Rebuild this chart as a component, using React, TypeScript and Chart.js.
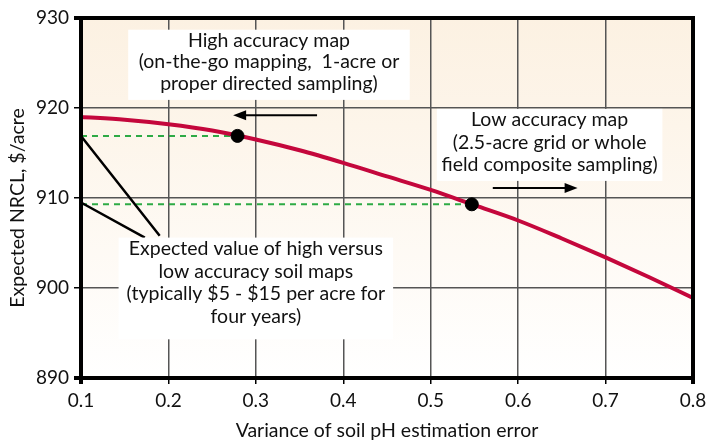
import React, { useEffect, useRef } from "react";
import { Chart, registerables } from "chart.js";

Chart.register(...registerables);

const xValues = [0.1, 0.15, 0.2, 0.25, 0.3, 0.35, 0.4, 0.45, 0.5, 0.55, 0.6, 0.65, 0.7, 0.75, 0.8];
const nrclValues = [919.0, 918.7, 918.2, 917.5, 916.5, 915.3, 913.9, 912.4, 910.9, 909.2, 907.5, 905.5, 903.4, 901.2, 898.9];
const markerX = [0.279, 0.547];
const markerY = [916.9, 909.3];
const xTicks = [0.1, 0.2, 0.3, 0.4, 0.5, 0.6, 0.7, 0.8];
const yTicks = [890, 900, 910, 920, 930];

const yTitle = "Expected NRCL, $/acre";
const xTitle = "Variance of soil pH estimation error";
const highText = ["High accuracy map", "(on-the-go mapping,  1-acre or", "proper directed sampling)"];
const lowText = ["Low accuracy map", "(2.5-acre grid or whole", "field composite sampling)"];
const valueText = ["Expected value of high versus", "low accuracy soil maps", "(typically $5 - $15 per acre for", "four years)"];

const FONT = "Lato, 'DejaVu Sans', sans-serif";

const annotPlugin = {
  id: "annot",
  beforeDatasetsDraw(chart: any) {
    const { ctx } = chart;
    const xs = chart.scales.x;
    const ys = chart.scales.y;
    const X = (v: number) => xs.getPixelForValue(v);
    const Y = (v: number) => ys.getPixelForValue(v);
    ctx.save();
    ctx.strokeStyle = "#2eaa45";
    ctx.lineWidth = 2;
    ctx.setLineDash([6, 5]);
    for (let i = 0; i < markerX.length; i++) {
      ctx.beginPath();
      ctx.moveTo(X(0.1), Y(markerY[i]));
      ctx.lineTo(X(markerX[i]), Y(markerY[i]));
      ctx.stroke();
    }
    ctx.setLineDash([]);
    ctx.restore();
  },
  beforeDraw(chart: any) {
    const { ctx, chartArea: a } = chart;
    ctx.save();
    const g = ctx.createLinearGradient(0, a.top, 0, a.bottom);
    g.addColorStop(0, "#fcf1e2");
    g.addColorStop(0.3, "#fdf5ea");
    g.addColorStop(1, "#ffffff");
    ctx.fillStyle = g;
    ctx.fillRect(a.left, a.top, a.right - a.left, a.bottom - a.top);
    ctx.restore();
  },
  afterDraw(chart: any) {
    const { ctx, chartArea: a } = chart;
    const xs = chart.scales.x;
    const ys = chart.scales.y;
    const X = (v: number) => xs.getPixelForValue(v);
    const Y = (v: number) => ys.getPixelForValue(v);
    ctx.save();

    // frame
    ctx.strokeStyle = "#000";
    ctx.lineWidth = 4;
    ctx.beginPath();
    ctx.moveTo(a.left - 7, a.top);
    ctx.lineTo(a.right, a.top);
    ctx.lineTo(a.right, a.bottom + 6);
    ctx.stroke();
    ctx.beginPath();
    ctx.moveTo(a.left, a.top);
    ctx.lineTo(a.left, a.bottom + 6);
    ctx.moveTo(a.left - 7, a.bottom);
    ctx.lineTo(a.right, a.bottom);
    ctx.stroke();

    // y-axis title (drawn manually, slightly below axis centre as in the original)
    ctx.save();
    ctx.translate(18, (a.top + a.bottom) / 2 + 10);
    ctx.rotate(-Math.PI / 2);
    ctx.fillStyle = "#111";
    ctx.font = `19.5px ${FONT}`;
    ctx.textAlign = "center";
    ctx.textBaseline = "middle";
    ctx.fillText(yTitle, 0, 0);
    ctx.restore();

    // pointer lines
    ctx.lineWidth = 2.5;
    ctx.beginPath();
    ctx.moveTo(X(0.1), Y(916.9));
    ctx.lineTo(X(0.19), Y(905.8));
    ctx.moveTo(X(0.1), Y(909.5));
    ctx.lineTo(X(0.173), Y(905.6));
    ctx.stroke();

    // arrows
    const arrow = (x1: number, x2: number, yv: number) => {
      const px1 = X(x1), px2 = X(x2), py = Y(yv);
      const dir = Math.sign(px2 - px1);
      ctx.lineWidth = 2;
      ctx.beginPath();
      ctx.moveTo(px1, py);
      ctx.lineTo(px2 - dir * 8, py);
      ctx.stroke();
      ctx.beginPath();
      ctx.moveTo(px2, py);
      ctx.lineTo(px2 - dir * 13, py - 5);
      ctx.lineTo(px2 - dir * 13, py + 5);
      ctx.closePath();
      ctx.fill();
    };
    ctx.fillStyle = "#000";
    arrow(0.37, 0.274, 919.2);
    arrow(0.571, 0.668, 911.1);

    // text boxes
    const box = (lines: string[], x1: number, x2: number, y1: number, y2: number, firstLine: number, lh: number) => {
      const l = X(x1), r = X(x2), t = Y(y1), b = Y(y2);
      ctx.fillStyle = "#ffffff";
      ctx.fillRect(l, t, r - l, b - t);
      ctx.fillStyle = "#111";
      ctx.font = `19.5px ${FONT}`;
      ctx.textAlign = "center";
      ctx.textBaseline = "middle";
      const cx = (l + r) / 2;
      lines.forEach((s, i) => ctx.fillText(s, cx, t + firstLine + i * lh));
    };
    box(highText, 0.154, 0.476, 928.7, 920.9, 11, 21.5);
    box(lowText, 0.507, 0.765, 919.9, 911.9, 11, 22.5);
    box(valueText, 0.143, 0.457, 905.6, 894.3, 11, 22.7);

    ctx.restore();
  },
};

export default function App() {
  const ref = useRef<HTMLCanvasElement>(null);
  useEffect(() => {
    const canvas = ref.current!;
    const chart = new Chart(canvas, {
      type: "line",
      data: {
        datasets: [
          {
            type: "line",
            data: xValues.map((x, i) => ({ x, y: nrclValues[i] })),
            borderColor: "#c4073c",
            borderWidth: 4,
            pointRadius: 0,
            cubicInterpolationMode: "monotone",
            fill: false,
            order: 2,
          },
          {
            type: "scatter",
            data: markerX.map((x, i) => ({ x, y: markerY[i] })),
            backgroundColor: "#000",
            borderColor: "#000",
            pointRadius: 6.5,
            order: 1,
          } as any,
        ],
      },
      options: {
        animation: false,
        responsive: false,
        layout: { padding: { top: 18, right: 24, left: 0, bottom: 0 } },
        plugins: { legend: { display: false }, tooltip: { enabled: false } },
        scales: {
          x: {
            type: "linear",
            min: 0.1,
            max: 0.8,
            afterBuildTicks: (s: any) => { s.ticks = xTicks.map((v) => ({ value: v })); },
            afterFit: (s: any) => { s.height = 68; },
            ticks: {
              color: "#111",
              font: { family: FONT, size: 19 },
              padding: 5,
              callback: (v: any) => Number(v).toFixed(1),
            },
            grid: { color: "#555", lineWidth: 1.5, tickLength: 6, tickColor: "#000" },
            border: { display: false },
            title: {
              display: true,
              text: xTitle,
              color: "#111",
              font: { family: FONT, size: 19.5 },
              padding: { top: 6 },
            },
          },
          y: {
            type: "linear",
            min: 890,
            max: 930,
            afterBuildTicks: (s: any) => { s.ticks = yTicks.map((v) => ({ value: v })); },
            afterFit: (s: any) => { s.width = 81; },
            ticks: {
              color: "#111",
              font: { family: FONT, size: 19 },
              padding: 5,
            },
            grid: { color: "#555", lineWidth: 1.5, tickLength: 7, tickColor: "#000" },
            border: { display: false },
            title: { display: false },
          },
        },
      },
      plugins: [annotPlugin],
    });
    return () => chart.destroy();
  }, []);
  return (
    <div style={{ position: "fixed", left: 0, top: 0, width: 717, height: 446, background: "#fff" }}>
      <canvas ref={ref} width={717} height={446} style={{ width: 717, height: 446 }} />
    </div>
  );
}
